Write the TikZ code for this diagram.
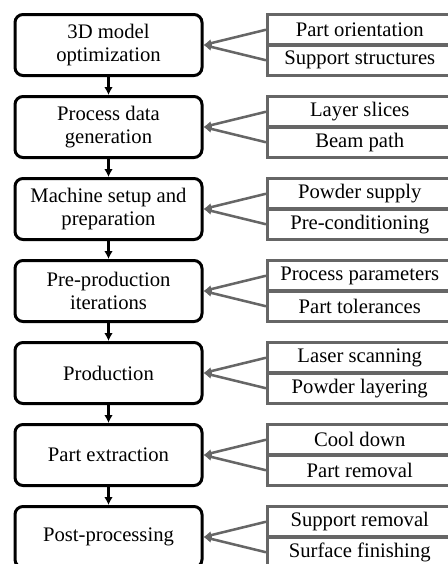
\documentclass[tikz,border=0pt]{standalone}
\usepackage{fontspec}
\setmainfont{Liberation Serif}
\usetikzlibrary{arrows.meta}
\definecolor{boxgray}{HTML}{666666}
\tikzset{
  stage/.style={draw=black, line width=2.25pt, rounded corners=6pt, minimum width=140.25pt, minimum height=45.75pt, align=center, inner sep=0pt, font=\fontsize{15.5}{17.5}\selectfont},
  sub/.style={draw=boxgray, line width=2.25pt, minimum width=138.4pt, minimum height=22.9pt, inner sep=0pt, font=\fontsize{15.5}{17.5}\selectfont},
  feed/.style={draw=boxgray, line width=1.9pt, -{Latex[length=6pt,width=6pt]}},
  flow/.style={draw=black, line width=2.25pt, -{Latex[length=6pt,width=6.5pt]}}
}
\begin{document}
\begin{tikzpicture}[x=0.75pt,y=-0.75pt]
\useasboundingbox (0,0) rectangle (448,564);
\foreach \k/\txt/\a/\b in {
  0/{3D model\\optimization}/{Part orientation}/{Support structures},
  1/{Process data\\generation}/{Layer slices}/{Beam path},
  2/{Machine setup and\\preparation}/{Powder supply}/{Pre-conditioning},
  3/{Pre-production\\iterations}/{Process parameters}/{Part tolerances},
  4/{Production}/{Laser scanning}/{Powder layering},
  5/{Part extraction}/{Cool down}/{Part removal},
  6/{Post-processing}/{Support removal}/{Surface finishing}} {
  \node[stage] (l\k) at (108.5, 45+82*\k) {\txt};
  \node[sub] (ra\k) at (359.75, 29.75+82*\k) {\a};
  \node[sub] (rb\k) at (359.75, 60.25+82*\k) {\b};
  \draw[feed] (ra\k.west) -- (l\k.east);
  \draw[feed] (rb\k.west) -- (l\k.east);
}
\foreach \k [evaluate=\k as \n using int(\k+1)] in {0,...,5} {
  \draw[flow] (l\k.south) -- (l\n.north);
}
\end{tikzpicture}
\end{document}
